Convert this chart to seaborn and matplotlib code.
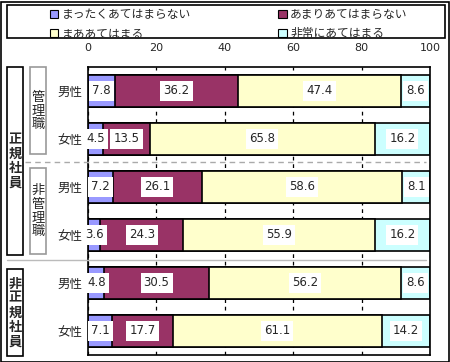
import matplotlib
matplotlib.use('Agg')
import matplotlib.pyplot as plt
import seaborn as sns
import numpy as np
import pandas as pd
from matplotlib.patches import Rectangle, Patch
from matplotlib.lines import Line2D

sns.set_style('white')
plt.rcParams['font.family'] = ['Noto Sans CJK JP', 'DejaVu Sans']

# data
rows = ['管理職男性', '管理職女性', '非管理職男性', '非管理職女性', '非正規男性', '非正規女性']
genders = ['男性', '女性', '男性', '女性', '男性', '女性']
series = ['まったくあてはまらない', 'あまりあてはまらない', 'まああてはまる', '非常にあてはまる']
not_at_all = [7.8, 4.5, 7.2, 3.6, 4.8, 7.1]
not_much = [36.2, 13.5, 26.1, 24.3, 30.5, 17.7]
somewhat = [47.4, 65.8, 58.6, 55.9, 56.2, 61.1]
very = [8.6, 16.2, 8.1, 16.2, 8.6, 14.2]
colors = ['#9999FF', '#993366', '#FFFFCC', '#CCFFFF']
xticks = [0, 20, 40, 60, 80, 100]

W, H = 450, 362
fig = plt.figure(figsize=(4.5, 3.62), dpi=100)
ax = fig.add_axes([88 / W, 1 - 355 / H, (430 - 88) / W, (355 - 67) / H])

df = pd.DataFrame({'row': rows, series[0]: not_at_all, series[1]: not_much,
                   series[2]: somewhat, series[3]: very})
cum = df[series].cumsum(axis=1)

# draw the stacked bars from the widest layer down
for i in range(3, -1, -1):
    sns.barplot(x=cum[series[i]], y=df['row'], orient='h', color=colors[i],
                width=0.65, edgecolor='black', linewidth=1.2, errorbar=None,
                saturation=1, ax=ax)

# value labels in white boxes
for i, s in enumerate(series):
    left = cum[s] - df[s]
    for j in range(len(rows)):
        ax.text(left[j] + df[s][j] / 2, j, f'{df[s][j]:.1f}', ha='center', va='center',
                fontsize=8.5, family=['DejaVu Sans'],
                bbox=dict(facecolor='white', edgecolor='none', pad=2.2))

ax.set_xlim(0, 100)
ax.set_ylim(5.5, -0.5)
ax.xaxis.tick_top()
ax.set_xticks(xticks)
ax.set_xticklabels([str(t) for t in xticks], fontsize=8, family=['DejaVu Sans'])
ax.tick_params(axis='x', length=0, pad=10)
ax.set_yticks(range(len(rows)))
ax.set_yticklabels(genders, fontsize=9)
ax.tick_params(axis='y', which='major', length=0, pad=4)
ax.set_yticks(np.arange(0.5, 5.5, 1), minor=True)
ax.tick_params(axis='y', which='minor', direction='in', length=4, width=1, color='black')
ax.set_xlabel('')
ax.set_ylabel('')
ax.grid(axis='x', linestyle=(0, (3, 3)), color='black', linewidth=0.9)
ax.grid(axis='y', visible=False)
ax.set_axisbelow(True)
for sp in ax.spines.values():
    sp.set_color('black')
    sp.set_linewidth(1.2)

# separators
fig.add_artist(Line2D([25 / W, 426 / W], [1 - 162 / H] * 2, color='#AAAAAA',
                      linewidth=1, linestyle=(0, (4, 3))))
fig.add_artist(Line2D([7 / W, 426 / W], [1 - 260 / H] * 2, color='#BBBBBB', linewidth=1))

# group boxes with vertical labels
def group_box(x0, x1, y0, y1, text, ec, bold):
    fig.add_artist(Rectangle((x0 / W, 1 - y1 / H), (x1 - x0) / W, (y1 - y0) / H,
                             transform=fig.transFigure, fill=False, edgecolor=ec,
                             linewidth=1.2))
    fig.text((x0 + x1) / 2 / W, 1 - (y0 + y1) / 2 / H, '\n'.join(text), ha='center',
             va='center', fontsize=9.5, linespacing=1.05,
             fontweight='bold' if bold else 'normal')

group_box(7, 23, 67, 255, '正規社員', 'black', True)
group_box(30, 46, 67, 154, '管理職', '#999999', False)
group_box(30, 46, 168, 254, '非管理職', '#999999', False)
group_box(7, 23, 269, 356, '非正規社員', 'black', True)

# legend
handles = [Patch(facecolor=colors[k], edgecolor='black', linewidth=0.8) for k in range(4)]
order = [0, 2, 1, 3]
fig.legend([handles[k] for k in order], [series[k] for k in order], ncol=2,
           loc='upper left', bbox_to_anchor=(50 / W, 1 - 8 / H), frameon=False,
           fontsize=8.5, handlelength=0.7, handleheight=0.7, handletextpad=0.3,
           columnspacing=7.4, labelspacing=0.5, borderpad=0, borderaxespad=0)
fig.add_artist(Rectangle((7 / W, 1 - 38 / H), (445 - 7) / W, (38 - 5) / H,
                         transform=fig.transFigure, fill=False, edgecolor='black',
                         linewidth=1.2))

# outer frame
fig.add_artist(Rectangle((0.5 / W, 0.5 / H), (W - 2) / W, (H - 2) / H,
                         transform=fig.transFigure, fill=False, edgecolor='black',
                         linewidth=1.2))

fig.savefig('out.png', dpi=100)
